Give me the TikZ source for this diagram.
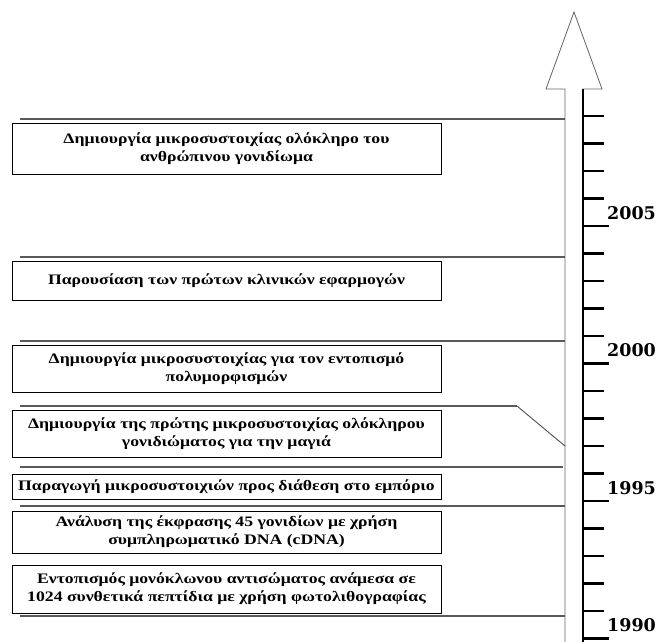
\documentclass[tikz,border=0pt]{standalone}
\usepackage{fontspec}
\setmainfont{Liberation Serif}
\newfontfamily\boxfont[FakeStretch=1.22]{Liberation Serif}
\newfontfamily\yearfont{DejaVu Serif}
\tikzset{
  evbox/.style={draw=black, line width=0.9pt, fill=white, minimum width=429pt, inner sep=0pt, align=center,
    font=\boxfont\fontsize{14.5}{18}\selectfont\bfseries},
  sepline/.style={draw=black!65, line width=1.4pt},
  axisline/.style={draw=black, line width=2pt},
  arrowoutline/.style={draw=black!60, line width=0.8pt, fill=white},
  ticksty/.style={draw=black, line width=2.4pt},
  yearlbl/.style={font=\yearfont\fontsize{17.5}{20}\selectfont\bfseries, inner sep=0pt, anchor=base west}
}
\begin{document}
\begin{tikzpicture}[x=1pt,y=-1pt]
\useasboundingbox (0,0) rectangle (658,641);
% arrow
\coordinate (sb) at (565,645);
\coordinate (sl) at (565,89);
\coordinate (hl) at (546,89);
\coordinate (tip) at (574,12);
\coordinate (hr) at (602,89);
\coordinate (sr) at (583,89);
\coordinate (sbr) at (583,645);
\path[arrowoutline] (sb) -- (sl) -- (hl) -- (tip) -- (hr) -- (sr) -- (sbr);
\draw[axisline] (sr) -- (sbr);
% ticks
\foreach \k in {0,...,19}{
  \pgfmathsetmacro{\ty}{116+27.5*\k}
  \draw[ticksty] (583,\ty) -- (604,\ty);
}
\foreach \k/\yr in {4/2005,9/2000,14/1995,19/1990}{
  \pgfmathsetmacro{\ty}{116+27.5*\k}
  \draw[ticksty] (583,\ty) -- (609,\ty);
  \node[yearlbl] (y\yr) at (607,\ty-7) {\yr};
}
% separator lines
\coordinate (l1a) at (20,119); \coordinate (l1b) at (565,119);
\coordinate (l2a) at (20,257); \coordinate (l2b) at (565,257);
\coordinate (l3a) at (20,341); \coordinate (l3b) at (565,341);
\coordinate (l4a) at (20,406); \coordinate (l4b) at (517,406); \coordinate (l4c) at (565,446);
\coordinate (l5a) at (20,467); \coordinate (l5b) at (563,467);
\coordinate (l6a) at (20,506); \coordinate (l6b) at (565,506);
\coordinate (l7a) at (20,616); \coordinate (l7b) at (565,616);
\draw[sepline] (l1a) -- (l1b);
\draw[sepline] (l2a) -- (l2b);
\draw[sepline] (l3a) -- (l3b);
\draw[sepline] (l4a) -- (l4b);
\draw[draw=black!70, line width=0.9pt] (l4b) -- (l4c);
\draw[sepline] (l5a) -- (l5b);
\draw[sepline] (l6a) -- (l6b);
\draw[sepline] (l7a) -- (l7b);
% boxes
\node[evbox, minimum height=51pt] (b1) at (226.5,148.5) {Δημιουργία μικροσυστοιχίας ολόκληρο του\\ανθρώπινου γονιδίωμα};
\node[evbox, minimum height=39pt] (b2) at (226.5,280.5) {Παρουσίαση των πρώτων κλινικών εφαρμογών};
\node[evbox, minimum height=47pt] (b3) at (226.5,368.5) {Δημιουργία μικροσυστοιχίας για τον εντοπισμό\\πολυμορφισμών};
\node[evbox, minimum height=47pt] (b4) at (226.5,433.5) {Δημιουργία της πρώτης μικροσυστοιχίας ολόκληρου\\γονιδιώματος για την μαγιά};
\node[evbox, minimum height=25pt] (b5) at (226.5,486.5) {Παραγωγή μικροσυστοιχιών προς διάθεση στο εμπόριο};
\node[evbox, minimum height=42pt] (b6) at (226.5,532) {Ανάλυση της έκφρασης 45 γονιδίων με χρήση\\συμπληρωματικό DNA (cDNA)};
\node[evbox, minimum height=48pt] (b7) at (226.5,589) {Εντοπισμός μονόκλωνου αντισώματος ανάμεσα σε\\1024 συνθετικά πεπτίδια με χρήση φωτολιθογραφίας};
\end{tikzpicture}
\end{document}
